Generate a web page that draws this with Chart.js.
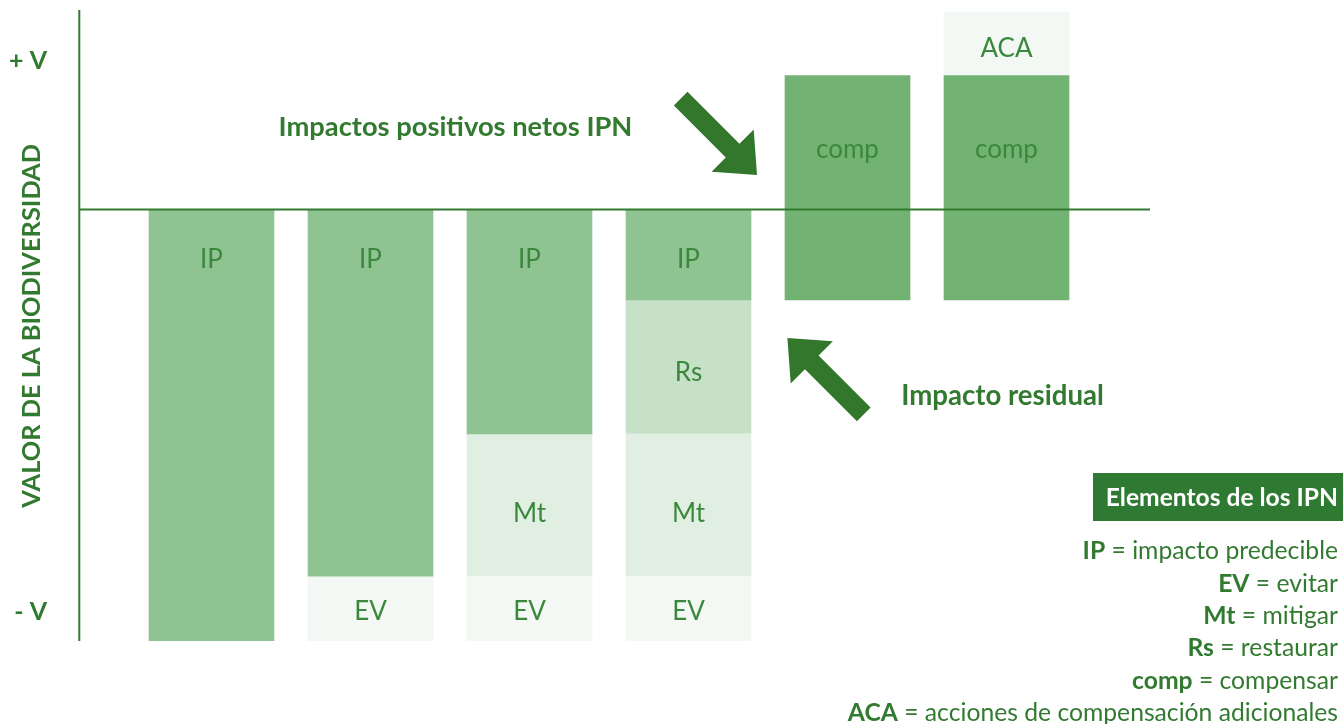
<!DOCTYPE html>
<html><head><meta charset="utf-8">
<script src="https://cdn.jsdelivr.net/npm/chart.js@4.4.0/dist/chart.umd.min.js"></script>
<style>html,body{margin:0;padding:0;background:#fff;overflow:hidden}</style>
</head><body>
<canvas id="c" width="1343" height="724"></canvas>
<script>
// ---- data ----
const categories = ['Impacto predecible','Evitar','Mitigar','Restaurar','Compensar','Compensación adicional'];
const ipValues   = [[-100,0],[-85,0],[-52,0],[-21,0],null,null];
const evValues   = [null,[-100,-85],[-100,-85],[-100,-85],null,null];
const mtValues   = [null,null,[-85,-52],[-85,-52],null,null];
const rsValues   = [null,null,null,[-52,-21],null,null];
const compValues = [null,null,null,null,[-21,31],[-21,31]];
const acaValues  = [null,null,null,null,null,[31,45.7]];
const yTickLabels = ['+ V','- V'];
const yTickValues = [34.6,-93];
const legendKeys  = ['IP','EV','Mt','Rs','comp','ACA'];
const legendDescs = ['impacto predecible','evitar','mitigar','restaurar','compensar','acciones de compensación adicionales'];

const DARK = '#327a30';
const LABEL = '#3b883d';
const FONT = 'Lato';

function toPoints(vals){
  return vals.map((v,i)=> v===null ? null : {x:i+1, y:v, cat:categories[i]}).filter(p=>p);
}
function ds(label, vals, color, text, from, dy){
  return {label, data: toPoints(vals), backgroundColor: color, borderWidth:0,
    barThickness:125, grouped:false, segLabel:{text, from, dy}};
}

const datasets = [
  ds('IP', ipValues, '#8fc391', 'IP', 'top', 49.4),
  ds('EV', evValues, '#f3f8f4', 'EV', 'center', 1.7),
  ds('Mt', mtValues, '#e1efe2', 'Mt', 'center', 7.5),
  ds('Rs', rsValues, '#c7e1c8', 'Rs', 'center', 4.3),
  ds('comp', compValues, '#72b374', 'comp', 'top', 73.3),
  ds('ACA', acaValues, '#f3f8f4', 'ACA', 'center', 4)
];

function capText(ctx, text, x, cy, size, weight, align, color){
  ctx.font = weight + ' ' + size + 'px ' + FONT;
  ctx.textAlign = align; ctx.textBaseline = 'alphabetic';
  ctx.fillStyle = color;
  ctx.fillText(text, x, cy + 0.358*size);
}

function arrow(ctx, tx, ty, ux, uy){
  const L=108, sw=19.3, hw=59.6, hl=34.5;
  const n=Math.hypot(ux,uy); ux/=n; uy/=n;
  const vx=-uy, vy=ux;
  const bx=tx-ux*hl, by=ty-uy*hl, ex=tx-ux*L, ey=ty-uy*L;
  ctx.beginPath();
  ctx.moveTo(tx,ty);
  ctx.lineTo(bx+vx*hw/2, by+vy*hw/2);
  ctx.lineTo(bx+vx*sw/2, by+vy*sw/2);
  ctx.lineTo(ex+vx*sw/2, ey+vy*sw/2);
  ctx.lineTo(ex-vx*sw/2, ey-vy*sw/2);
  ctx.lineTo(bx-vx*sw/2, by-vy*sw/2);
  ctx.lineTo(bx-vx*hw/2, by-vy*hw/2);
  ctx.closePath();
  ctx.fillStyle = '#33772c';
  ctx.fill();
}

const decor = {
  id:'decor',
  afterDatasetsDraw(chart){
    const ctx = chart.ctx, xs = chart.scales.x, ys = chart.scales.y, ca = chart.chartArea;
    ctx.save();
    // segment labels
    chart.data.datasets.forEach((d,di)=>{
      const meta = chart.getDatasetMeta(di);
      meta.data.forEach(el=>{
        const top = Math.min(el.y, el.base), bot = Math.max(el.y, el.base);
        const cy = d.segLabel.from==='top' ? top + d.segLabel.dy : (top+bot)/2 + d.segLabel.dy;
        capText(ctx, d.segLabel.text, el.x, cy, 26, 'normal', 'center', LABEL);
      });
    });
    // zero line
    const y0 = ys.getPixelForValue(0);
    ctx.strokeStyle = DARK; ctx.lineWidth = 2;
    ctx.beginPath(); ctx.moveTo(ca.left, y0); ctx.lineTo(ca.right, y0); ctx.stroke();
    // vertical axis
    const xl = xs.getPixelForValue(xs.min);
    ctx.beginPath(); ctx.moveTo(xl+0.3, ca.top); ctx.lineTo(xl+0.3, ca.bottom); ctx.stroke();
    // tick labels
    yTickLabels.forEach((t,i)=> capText(ctx, t, 47, ys.getPixelForValue(yTickValues[i]), 25, 'bold', 'right', DARK));
    // axis title
    ctx.save();
    ctx.translate(31, 325.8); ctx.rotate(-Math.PI/2);
    capText(ctx, 'VALOR DE LA BIODIVERSIDAD', 0, 0, 25.4, 'bold', 'center', DARK);
    ctx.restore();
    // annotations
    capText(ctx, 'Impactos positivos netos IPN', 455.5, 125.8, 27.3, 'bold', 'center', DARK);
    capText(ctx, 'Impacto residual', 1002.5, 395.3, 27.6, 'bold', 'center', DARK);
    arrow(ctx, xs.getPixelForValue(4.431), ys.getPixelForValue(7.97), 1, 1);
    arrow(ctx, xs.getPixelForValue(4.622), ys.getPixelForValue(-29.8), -1, -1);
    // key
    ctx.fillStyle = '#2f7a33';
    ctx.fillRect(1093, 473, 250, 48);
    capText(ctx, 'Elementos de los IPN', 1338, 496.7, 24.6, 'bold', 'right', '#ffffff');
    const R = 1338, KS = 24.7;
    legendKeys.forEach((k,i)=>{
      const cy = 550.3 + i*32.4;
      ctx.font = 'normal ' + KS + 'px ' + FONT;
      const rest = ' = ' + legendDescs[i];
      const wr = ctx.measureText(rest).width;
      capText(ctx, rest, R, cy, KS, 'normal', 'right', DARK);
      capText(ctx, k, R - wr, cy, KS, 'bold', 'right', DARK);
    });
    ctx.restore();
  }
};

new Chart(document.getElementById('c'), {
  type:'bar',
  data:{datasets},
  options:{
    responsive:false, animation:false, devicePixelRatio:1,
    layout:{padding:{left:79, right:193, top:10, bottom:83}},
    plugins:{legend:{display:false}, tooltip:{enabled:false}},
    scales:{
      x:{type:'linear', display:false, offset:false, min:0.1667, max:6.9025},
      y:{display:false, min:-100, max:46.2}
    }
  },
  plugins:[decor]
});
</script>
</body></html>
